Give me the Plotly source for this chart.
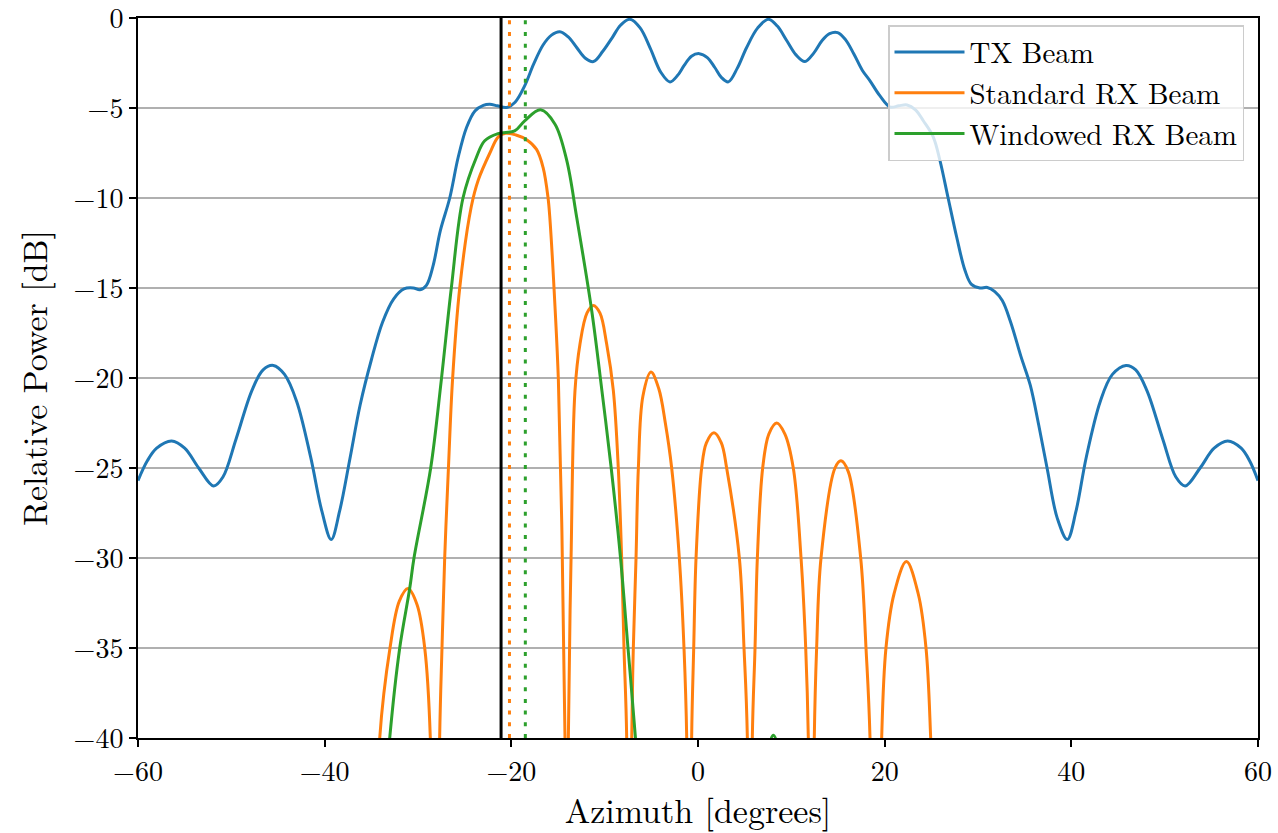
import plotly.graph_objects as go

# ---------------- data ----------------
tx_az = [-60, -59.0, -58.0, -56.4, -55.0, -53.5, -51.9, -50.9, -49.5, -47.8, -46.6, -45.5,
         -44.3, -43.0, -41.5, -40.3, -39.3, -38.4, -37.3, -36.2, -35.0, -33.8, -32.6, -31.5,
         -30.5, -29.8, -29.1, -28.4, -27.6, -26.6, -25.7, -24.8, -23.9, -23.0, -22.3, -21.5,
         -20.5, -19.6, -18.6, -17.6, -16.6, -15.7, -14.8, -13.9, -13.0, -12.1, -11.2, -10.2,
         -9.2, -8.3, -7.3, -6.2, -5.1, -4.0, -3.0, -2.2, -1.5, -0.7, 0.14, 1.0, 1.8, 2.5,
         3.25, 4.2, 5.2, 6.4, 7.54, 8.5, 9.5, 10.5, 11.46, 12.4, 13.3, 14.1, 14.96, 15.8,
         16.7, 17.6, 18.43, 19.5, 20.6, 21.5, 22.4, 23.3, 24.14, 25.2, 25.93, 26.8, 27.72,
         28.61, 29.3, 30.2, 31.0, 31.8, 32.6, 33.5, 34.6, 35.6, 36.5, 37.4, 38.5, 39.57,
         40.5, 41.6, 43.1, 44.4, 45.86, 46.9, 48.1, 49.8, 51.2, 52.2, 53.8, 55.3, 56.75,
         58.2, 59.1, 60]
tx_db = [-25.7, -24.6, -23.9, -23.5, -23.9, -25.0, -26.0, -25.5, -23.4, -20.7, -19.55, -19.3,
         -19.8, -21.3, -24.4, -27.4, -28.97, -27.4, -24.5, -21.5, -19.0, -16.9, -15.6, -15.05,
         -15.0, -15.1, -14.85, -13.8, -11.8, -10.0, -7.75, -6.08, -5.16, -4.85, -4.79, -4.88,
         -4.97, -4.68, -3.8, -2.55, -1.5, -0.95, -0.76, -1.05, -1.64, -2.22, -2.42, -1.85,
         -1.1, -0.4, -0.07, -0.55, -1.7, -3.0, -3.55, -3.2, -2.65, -2.12, -1.98, -2.2, -2.75, -3.3,
         -3.55, -2.8, -1.65, -0.55, -0.07, -0.45, -1.25, -2.05, -2.42, -1.95, -1.25, -0.87, -0.81, -1.2,
         -2.0, -2.9, -3.49, -4.33, -4.95, -4.88, -4.83, -5.1, -5.71, -6.6, -7.93, -10.0, -12.18,
         -14.03, -14.8, -15.0, -14.97, -15.2, -15.7, -16.9, -18.8, -20.4, -22.6, -25.0, -27.8, -28.97,
         -27.4, -24.4, -21.3, -19.8, -19.3, -19.55, -20.7, -23.4, -25.5, -26.0, -25.0, -23.9, -23.5,
         -23.9, -24.6, -25.7]

std_az = [-34.6, -34.1, -33.0, -32.0, -31.07, -30.1, -29.28, -28.68, -28.2,
          -27.68, -27.43, -27.14, -26.74, -26.3, -25.53, -24.3, -23.54, -22.3, -21.4, -20.6,
          -19.5, -18.4, -17.3, -16.6, -16.07, -15.86, -15.3, -14.96, -14.6, -14.25, -14.05,
          -13.89, -13.6, -13.18, -12.64, -11.9, -11.21, -10.5, -9.79, -9.07, -8.54, -8.18, -7.93, -7.64, -7.4,
          -7.1, -6.93, -6.64, -6.39, -5.9, -5.04, -4.2, -3.5, -2.82, -2.0, -1.5, -1.21, -0.95,
          -0.68, -0.46, -0.21, 0.39, 0.9, 1.71, 2.5, 3.07, 4.43, 4.93, 5.29, 5.55,
          5.82, 6.11, 6.36, 6.93, 7.6, 8.43, 9.3, 10.21, 11.04, 11.54, 11.82, 12.15,
          12.46, 12.71, 13.18, 14.68, 15.32, 16.1, 17.43, 18.0, 18.43, 19.05,
          19.68, 20.14, 21.0, 22.33, 23.6, 24.43, 24.93, 25.5]
std_db = [-50, -40, -35, -32.4, -31.7, -32.6, -35, -40, -70,
          -40, -35, -30, -25, -20.1, -15, -10.5, -9.0, -7.5, -6.6, -6.4,
          -6.5, -6.75, -7.3, -8.3, -9.97, -11.2, -16.25, -20.1, -28, -40, -70,
          -40, -30, -20.7, -18.1, -16.4, -15.97, -16.4, -18.1, -20.7, -25, -30, -35, -40, -70,
          -40, -35, -30, -25, -21.0, -19.67, -20.6, -22.5, -25, -30, -35, -40, -70,
          -40, -35, -30, -25, -23.6, -23.04, -23.6, -25, -30, -35, -40, -70,
          -40, -35, -30, -25, -23.1, -22.5, -23.1, -25, -30, -35, -40, -70,
          -40, -35, -30, -25, -24.6, -25.2, -30, -35, -40, -70,
          -40, -35, -32.0, -30.2, -32.0, -35, -40, -50]

win_az = [-33.6, -33.03, -31.96, -30.89, -30.43, -28.64, -27.5, -26.43, -25.18, -23.75, -22.85,
          -21.43, -19.64, -18.57, -16.86, -15.32, -14.07, -12.99, -11.39, -10.3, -9.3, -8.3,
          -7.5, -6.7, -6.2, 0.0, 7.0, 7.6, 8.07, 8.55, 9.1, 15.0]
win_db = [-44, -40, -35, -31.7, -30, -25, -20.1, -15, -10, -7.75, -6.82,
          -6.42, -6.27, -5.71, -5.1, -5.9, -7.9, -11.1, -16.25, -20.69, -25, -30,
          -35, -40, -44, -60, -42.5, -40.4, -39.85, -40.4, -42.5, -60]

steer_angle = -21.1
std_estimate = -20.2
win_estimate = -18.5

series_names = ["TX Beam", "Standard RX Beam", "Windowed RX Beam"]
x_ticks = [-60, -40, -20, 0, 20, 40, 60]
y_ticks = [0, -5, -10, -15, -20, -25, -30, -35, -40]

BLUE, ORANGE, GREEN = "#1f77b4", "#ff7f0e", "#2ca02c"
FONT = "Latin Modern Roman"

fig = go.Figure()
for az, db, name, col in [(tx_az, tx_db, series_names[0], BLUE),
                          (std_az, std_db, series_names[1], ORANGE),
                          (win_az, win_db, series_names[2], GREEN)]:
    fig.add_trace(go.Scatter(x=az, y=db, mode="lines", name=name,
                             line=dict(color=col, width=3, shape="spline", smoothing=1.0)))

fig.add_trace(go.Scatter(x=[steer_angle, steer_angle], y=[-40, 0], mode="lines",
                         line=dict(color="black", width=3), showlegend=False, hoverinfo="skip"))
fig.add_trace(go.Scatter(x=[std_estimate, std_estimate], y=[-40, 0], mode="lines",
                         line=dict(color=ORANGE, width=3, dash="4px,7.7px"), showlegend=False, hoverinfo="skip"))
fig.add_trace(go.Scatter(x=[win_estimate, win_estimate], y=[-40, 0], mode="lines",
                         line=dict(color=GREEN, width=3, dash="4px,7.7px"), showlegend=False, hoverinfo="skip"))

axis_common = dict(showline=True, linecolor="black", linewidth=2, mirror=True,
                   ticks="outside", ticklen=7, tickwidth=1.5, tickcolor="black",
                   zeroline=False, ticklabeloverflow="allow",
                   tickfont=dict(family=FONT, size=28, color="black"))

fig.update_xaxes(range=[-60, 60], tickvals=x_ticks, showgrid=False,
                 title=dict(text="Azimuth [degrees]", font=dict(family=FONT, size=34, color="black"), standoff=4),
                 **axis_common)
fig.update_yaxes(range=[-40, 0], tickvals=y_ticks, showgrid=True, gridcolor="#b0b0b0", gridwidth=1.5,
                 title=dict(text="Relative Power [dB]", font=dict(family=FONT, size=34, color="black"), standoff=16),
                 **axis_common)

fig.update_layout(
    width=1278, height=833,
    margin=dict(l=138, r=20, t=18, b=95, autoexpand=False),
    plot_bgcolor="white", paper_bgcolor="white",
    font=dict(family=FONT, size=28, color="black"),
    legend=dict(x=0.9875, xanchor="right", y=0.99, yanchor="top", itemwidth=70,
                bgcolor="rgba(255,255,255,0.8)", bordercolor="#cccccc", borderwidth=1.5,
                font=dict(family=FONT, size=29, color="black")),
    showlegend=True,
)

fig.write_html("out.html")
